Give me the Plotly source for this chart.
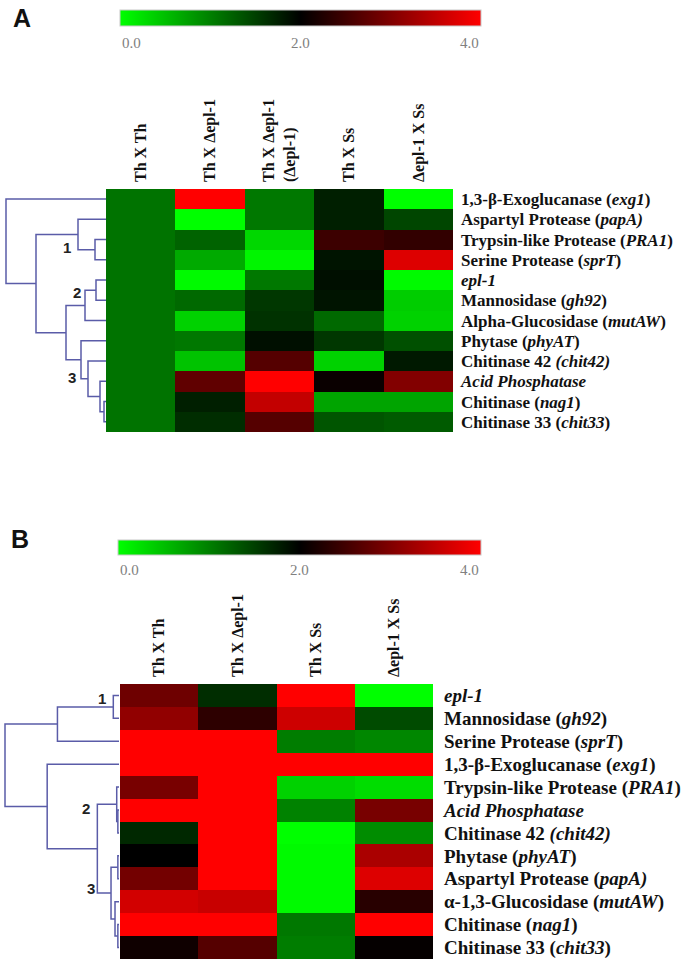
import plotly.graph_objects as go

W, H = 700, 966

# Panel A data
a_cols = ["Th X Th", "Th X Δepl-1", "Th X Δepl-1<br>(Δepl-1)", "Th X Ss", "Δepl-1 X Ss"]
a_rows = [
    "1,3-β-Exoglucanase (<i>exg1</i>)",
    "Aspartyl Protease (<i>papA)</i>",
    "Trypsin-like Protease (<i>PRA1</i>)",
    "Serine Protease (<i>sprT</i>)",
    "<i>epl-1</i>",
    "Mannosidase (<i>gh92</i>)",
    "Alpha-Glucosidase (<i>mutAW</i>)",
    "Phytase (<i>phyAT</i>)",
    "Chitinase 42 <i>(chit42)</i>",
    "<i>Acid Phosphatase</i>",
    "Chitinase (<i>nag1</i>)",
    "Chitinase 33 (<i>chit33</i>)",
]
a_values = [
    [1.1, 4.0, 1.06, 1.76, 0.0],
    [1.1, 0.0, 1.06, 1.76, 1.45],
    [1.1, 1.22, 0.31, 2.47, 2.39],
    [1.1, 0.67, 0.08, 1.84, 3.73],
    [1.1, 0.04, 1.06, 1.88, 0.04],
    [1.1, 1.18, 1.57, 1.84, 0.39],
    [1.1, 0.35, 1.61, 1.18, 0.35],
    [1.1, 1.06, 1.88, 1.57, 1.37],
    [1.1, 0.47, 2.67, 0.35, 1.80],
    [1.1, 2.75, 4.0, 2.08, 3.02],
    [1.1, 1.76, 3.53, 0.71, 0.71],
    [1.1, 1.65, 2.67, 1.33, 1.29],
]
# merges: (left, right, distance); new cluster ids start at 12
a_linkage = [
    (10, 11, 0.02), (9, 12, 0.06), (8, 13, 0.18), (7, 14, 0.25),
    (4, 5, 0.10), (16, 6, 0.21), (17, 15, 0.40),
    (2, 3, 0.11), (1, 19, 0.28), (20, 18, 0.70), (0, 21, 1.00),
]

# Panel B data
b_cols = ["Th X Th", "Th X Δepl-1", "Th X Ss", "Δepl-1 X Ss"]
b_rows = [
    "<i>epl-1</i>",
    "Mannosidase (<i>gh92</i>)",
    "Serine Protease (<i>sprT</i>)",
    "1,3-β-Exoglucanase (<i>exg1</i>)",
    "Trypsin-like Protease (<i>PRA1</i>)",
    "<i>Acid Phosphatase</i>",
    "Chitinase 42 <i>(chit42)</i>",
    "Phytase (<i>phyAT</i>)",
    "Aspartyl Protease (<i>papA)</i>",
    "α-1,3-Glucosidase (<i>mutAW</i>)",
    "Chitinase (<i>nag1</i>)",
    "Chitinase 33 (<i>chit33</i>)",
]
b_values = [
    [2.86, 1.65, 4.0, 0.0],
    [3.14, 2.35, 3.61, 1.41],
    [4.0, 4.0, 1.02, 0.94],
    [4.0, 4.0, 4.0, 4.0],
    [2.94, 4.0, 0.35, 0.27],
    [4.0, 4.0, 0.98, 2.94],
    [1.69, 4.0, 0.0, 0.90],
    [2.0, 4.0, 0.04, 3.33],
    [2.9, 4.0, 0.04, 3.73],
    [3.65, 3.57, 0.04, 2.31],
    [4.0, 4.0, 1.06, 4.0],
    [2.12, 2.67, 1.02, 2.04],
]
b_linkage = [
    (10, 11, 0.01), (9, 12, 0.035), (7, 8, 0.01), (14, 13, 0.07),
    (5, 6, 0.01), (4, 16, 0.02), (17, 15, 0.19), (3, 18, 0.63),
    (0, 1, 0.05), (20, 2, 0.54), (21, 19, 1.00),
]

cbar_ticks = ["0.0", "2.0", "4.0"]

colorscale = [[0, "#00ff00"], [0.5, "#000000"], [1, "#ff0000"]]
serif = "Liberation Serif, Times New Roman, serif"
sans = "Liberation Sans, Arial, sans-serif"
line_col = "#5a5ca8"


def dendro_lines(n_leaves, linkage):
    pos = {i: float(i) for i in range(n_leaves)}
    hgt = {i: 0.0 for i in range(n_leaves)}
    xs, ys = [], []
    for k, (a, b, h) in enumerate(linkage):
        xs += [hgt[a], h, h, hgt[b], None]
        ys += [pos[a], pos[a], pos[b], pos[b], None]
        nid = n_leaves + k
        pos[nid] = (pos[a] + pos[b]) / 2
        hgt[nid] = h
    return xs, ys


def cbar(left, right, top, thick):
    return dict(orientation="h", x=left / W, xanchor="left", y=1 - top / H,
                yanchor="top", len=(right - left) / W, lenmode="fraction",
                thickness=thick, outlinewidth=1, outlinecolor="#c8c8c8",
                showticklabels=False, ticks="", xpad=0, ypad=0)


fig = go.Figure()

fig.add_trace(go.Heatmap(z=a_values, x=list(range(len(a_cols))), y=list(range(len(a_rows))),
                         colorscale=colorscale, zmin=0, zmax=4, xaxis="x", yaxis="y",
                         colorbar=cbar(120, 481, 10, 16), hoverinfo="skip"))
fig.add_trace(go.Heatmap(z=b_values, x=list(range(len(b_cols))), y=list(range(len(b_rows))),
                         colorscale=colorscale, zmin=0, zmax=4, xaxis="x2", yaxis="y2",
                         colorbar=cbar(118, 481, 540, 15), hoverinfo="skip"))

xa, ya = dendro_lines(len(a_rows), a_linkage)
fig.add_trace(go.Scatter(x=xa, y=ya, mode="lines", xaxis="x3", yaxis="y",
                         line=dict(color=line_col, width=1.5), hoverinfo="skip"))
xb, yb = dendro_lines(len(b_rows), b_linkage)
fig.add_trace(go.Scatter(x=xb, y=yb, mode="lines", xaxis="x4", yaxis="y2",
                         line=dict(color=line_col, width=1.5), hoverinfo="skip"))

col_font = dict(family=serif, size=16, color="#111")

fig.update_layout(
    width=W, height=H, margin=dict(l=0, r=0, t=0, b=0),
    paper_bgcolor="white", plot_bgcolor="white", showlegend=False,
    xaxis=dict(domain=[106 / W, 453 / W], anchor="y", side="top",
               tickvals=list(range(len(a_cols))), ticktext=["<b>%s</b>" % c for c in a_cols],
               tickangle=-90, tickfont=col_font, ticks="", ticklabelstandoff=6,
               showgrid=False, zeroline=False, showline=False, range=[-0.5, 4.5]),
    yaxis=dict(domain=[1 - 432 / H, 1 - 189 / H], anchor="x", side="right",
               tickvals=list(range(len(a_rows))), ticktext=["<b>%s</b>" % r for r in a_rows],
               tickfont=dict(family=serif, size=17, color="#111"), ticks="",
               ticklabelstandoff=7, range=[11.5, -0.5],
               showgrid=False, zeroline=False, showline=False),
    xaxis2=dict(domain=[120 / W, 433 / W], anchor="y2", side="top",
                tickvals=list(range(len(b_cols))), ticktext=["<b>%s</b>" % c for c in b_cols],
                tickangle=-90, tickfont=col_font, ticks="", ticklabelstandoff=6,
                showgrid=False, zeroline=False, showline=False, range=[-0.5, 3.5]),
    yaxis2=dict(domain=[1 - 959 / H, 1 - 684 / H], anchor="x2", side="right",
                tickvals=list(range(len(b_rows))), ticktext=["<b>%s</b>" % r for r in b_rows],
                tickfont=dict(family=serif, size=19, color="#111"), ticks="",
                ticklabelstandoff=10, range=[11.5, -0.5],
                showgrid=False, zeroline=False, showline=False),
    xaxis3=dict(domain=[0, 106 / W], anchor="y", range=[1.06, 0], visible=False),
    xaxis4=dict(domain=[0, 119 / W], anchor="y2", range=[119 / 114, 0], visible=False),
)

annos = []
# panel letters
annos.append(dict(x=22 / W, y=1 - 18 / H, text="<b>A</b>", font=dict(family=sans, size=25, color="#111")))
annos.append(dict(x=20 / W, y=1 - 539 / H, text="<b>B</b>", font=dict(family=sans, size=25, color="#111")))
# colorbar labels
for top_y, left, right in [(43, 120, 481), (570, 118, 481)]:
    xs = [left, (left + right) / 2, right]
    anchors = ["left", "center", "right"]
    for t, x, an in zip(cbar_ticks, xs, anchors):
        annos.append(dict(x=x / W, y=1 - top_y / H, text=t, xanchor=an,
                          font=dict(family=serif, size=15, color="#808080")))
# cluster numbers
for t, x, y in [("1", 67, 248), ("2", 77, 292), ("3", 72, 377),
                ("1", 102, 698), ("2", 86, 808), ("3", 91, 888)]:
    annos.append(dict(x=x / W, y=1 - y / H, text="<b>%s</b>" % t,
                      font=dict(family=sans, size=15, color="#222")))
for a in annos:
    a.update(xref="paper", yref="paper", showarrow=False)
    a.setdefault("xanchor", "center")
    a.setdefault("yanchor", "middle")
fig.update_layout(annotations=annos)

# drop the browser's default 8px body margin so the figure fills the window
fig.write_html("out.html", config={"displayModeBar": False},
               post_script="document.body.style.margin='0';")
